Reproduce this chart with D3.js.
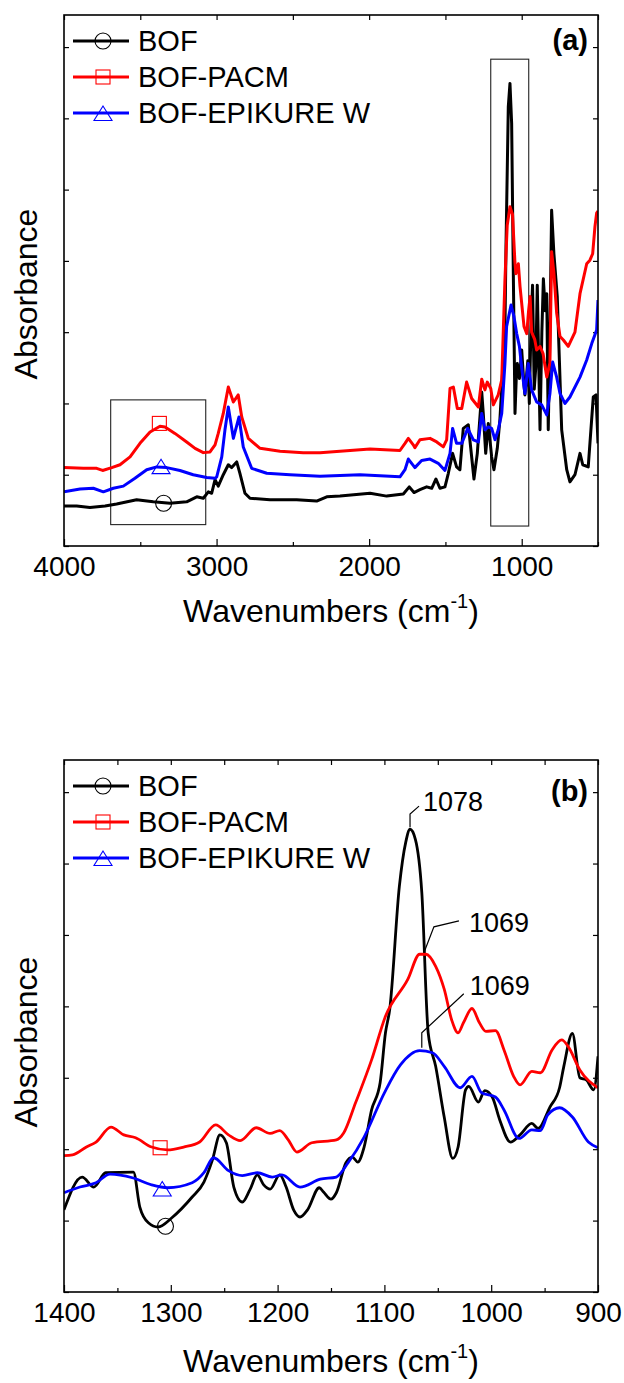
<!DOCTYPE html>
<html lang="en">
<head>
<meta charset="utf-8">
<title>FTIR</title>
<style>
  body { margin: 0; background: #fff; }
  svg { display: block; }
  text { font-family: "Liberation Sans", Arial, sans-serif; fill: #000; }
</style>
</head>
<body>
<svg id="chart" width="624" height="1383"></svg>
<script src="https://cdn.jsdelivr.net/npm/d3@7/dist/d3.min.js"></script>
<script>
// ---- data ----
var seriesNames = ['BOF', 'BOF-PACM', 'BOF-EPIKURE W'];

var ticksA = [4000, 3000, 2000, 1000];
var minorA = [3500, 2500, 1500, 500];
var ticksB = [1400, 1300, 1200, 1100, 1000, 900];
var minorB = [1350, 1250, 1150, 1050, 950];
var yTicks = [0, 0.1, 0.2, 0.3, 0.4, 0.5, 0.6, 0.7];

// (a) full range spectra [wavenumber, absorbance]
var bofA = [[4000,0.056],[3917,0.056],[3830,0.054],[3731,0.056],[3655,0.059],[3524,0.065],[3415,0.062],[3305,0.060],[3196,0.062],[3130,0.069],[3087,0.067],[3054,0.076],[3032,0.074],[3010,0.093],[2989,0.084],[2956,0.100],[2923,0.114],[2901,0.110],[2868,0.118],[2847,0.102],[2814,0.074],[2781,0.067],[2650,0.065],[2475,0.065],[2344,0.063],[2278,0.069],[2191,0.070],[1994,0.074],[1885,0.070],[1776,0.073],[1737,0.083],[1706,0.075],[1667,0.079],[1623,0.083],[1590,0.081],[1562,0.094],[1536,0.081],[1503,0.083],[1481,0.102],[1453,0.130],[1427,0.111],[1405,0.107],[1383,0.165],[1350,0.170],[1333,0.135],[1313,0.094],[1291,0.130],[1262,0.216],[1252,0.186],[1236,0.130],[1219,0.172],[1197,0.125],[1182,0.107],[1160,0.137],[1143,0.177],[1110,0.303],[1103,0.420],[1088,0.616],[1077,0.649],[1066,0.593],[1055,0.382],[1044,0.186],[1035,0.240],[1029,0.256],[1015,0.235],[1000,0.275],[985,0.225],[979,0.212],[960,0.260],[950,0.200],[940,0.300],[929,0.366],[918,0.220],[908,0.250],[898,0.366],[888,0.250],[880,0.163],[868,0.300],[858,0.375],[846,0.330],[836,0.354],[826,0.163],[815,0.300],[804,0.471],[789,0.410],[767,0.350],[753,0.260],[738,0.163],[705,0.107],[684,0.090],[651,0.100],[618,0.130],[600,0.114],[564,0.111],[531,0.209],[513,0.212],[500,0.144]];

var pacmA = [[4000,0.110],[3873,0.109],[3786,0.109],[3747,0.106],[3687,0.110],[3633,0.114],[3567,0.125],[3502,0.144],[3436,0.160],[3371,0.168],[3338,0.167],[3273,0.158],[3196,0.146],[3141,0.137],[3087,0.131],[3043,0.132],[3010,0.142],[2989,0.158],[2956,0.186],[2923,0.223],[2890,0.202],[2858,0.212],[2835,0.181],[2792,0.151],[2715,0.137],[2584,0.133],[2432,0.131],[2322,0.131],[1994,0.136],[1798,0.134],[1765,0.144],[1743,0.151],[1711,0.142],[1700,0.138],[1667,0.149],[1601,0.151],[1557,0.146],[1514,0.139],[1492,0.149],[1470,0.221],[1448,0.223],[1422,0.193],[1393,0.193],[1361,0.230],[1328,0.207],[1284,0.195],[1262,0.234],[1241,0.219],[1226,0.230],[1203,0.221],[1186,0.198],[1154,0.212],[1131,0.233],[1110,0.373],[1095,0.450],[1077,0.476],[1060,0.465],[1045,0.400],[1038,0.382],[1022,0.396],[1011,0.364],[985,0.308],[967,0.298],[955,0.330],[945,0.350],[935,0.300],[915,0.290],[902,0.275],[880,0.280],[860,0.270],[836,0.237],[815,0.257],[804,0.413],[789,0.383],[771,0.327],[749,0.294],[727,0.289],[695,0.280],[651,0.300],[618,0.354],[574,0.396],[553,0.401],[535,0.410],[520,0.448],[509,0.467],[500,0.470]];

var epikureA = [[4000,0.076],[3895,0.080],[3808,0.081],[3742,0.076],[3677,0.081],[3611,0.084],[3535,0.095],[3458,0.107],[3392,0.111],[3327,0.110],[3240,0.106],[3153,0.100],[3065,0.096],[3010,0.095],[2999,0.097],[2966,0.125],[2945,0.163],[2923,0.195],[2890,0.151],[2853,0.181],[2825,0.139],[2770,0.109],[2671,0.102],[2519,0.100],[2322,0.098],[2060,0.100],[1798,0.097],[1765,0.107],[1743,0.122],[1700,0.110],[1656,0.120],[1601,0.122],[1547,0.116],[1503,0.106],[1470,0.130],[1453,0.165],[1427,0.144],[1393,0.144],[1354,0.165],[1317,0.149],[1284,0.146],[1262,0.186],[1241,0.163],[1219,0.167],[1197,0.165],[1175,0.149],[1154,0.163],[1131,0.186],[1110,0.256],[1099,0.308],[1070,0.338],[1051,0.322],[1033,0.298],[1015,0.280],[1000,0.250],[979,0.214],[957,0.256],[935,0.219],[902,0.202],[869,0.198],[836,0.184],[815,0.214],[797,0.258],[771,0.237],[749,0.214],[717,0.200],[684,0.209],[618,0.237],[574,0.261],[541,0.284],[509,0.303],[500,0.345]];

// (b) 1400-900 expansion
var bofB = [[1400,0.115],[1383,0.161],[1372,0.147],[1361,0.167],[1335,0.168],[1329,0.119],[1321,0.097],[1312,0.091],[1299,0.104],[1280,0.133],[1269,0.154],[1261,0.185],[1254,0.220],[1248,0.209],[1241,0.147],[1233,0.126],[1226,0.143],[1219,0.164],[1213,0.150],[1207,0.144],[1198,0.164],[1192,0.147],[1185,0.115],[1179,0.105],[1172,0.115],[1161,0.146],[1157,0.140],[1150,0.130],[1145,0.139],[1136,0.181],[1130,0.189],[1125,0.182],[1119,0.203],[1112,0.255],[1104,0.293],[1099,0.363],[1095,0.396],[1086,0.568],[1080,0.630],[1076,0.648],[1071,0.634],[1065,0.560],[1059,0.363],[1052,0.316],[1044,0.245],[1036,0.187],[1031,0.203],[1024,0.283],[1021,0.288],[1012,0.266],[1006,0.282],[999,0.273],[992,0.241],[982,0.210],[973,0.220],[962,0.236],[956,0.229],[945,0.259],[936,0.286],[932,0.316],[924,0.362],[917,0.300],[911,0.297],[904,0.283],[900,0.330]];

var pacmB = [[1400,0.191],[1392,0.192],[1379,0.203],[1370,0.210],[1356,0.231],[1344,0.220],[1333,0.216],[1318,0.203],[1303,0.199],[1288,0.203],[1273,0.210],[1258,0.234],[1246,0.220],[1235,0.212],[1220,0.230],[1207,0.222],[1198,0.226],[1190,0.213],[1182,0.196],[1168,0.209],[1145,0.213],[1138,0.223],[1127,0.265],[1112,0.325],[1099,0.386],[1078,0.438],[1067,0.473],[1061,0.473],[1052,0.456],[1044,0.424],[1037,0.381],[1031,0.363],[1026,0.377],[1018,0.397],[1011,0.377],[1005,0.365],[996,0.366],[988,0.339],[979,0.302],[973,0.290],[962,0.309],[954,0.307],[943,0.339],[934,0.353],[928,0.344],[917,0.311],[900,0.286]];

var epikureB = [[1400,0.139],[1385,0.147],[1370,0.153],[1357,0.165],[1336,0.160],[1318,0.150],[1303,0.146],[1280,0.153],[1269,0.167],[1260,0.188],[1246,0.170],[1233,0.163],[1219,0.167],[1205,0.161],[1196,0.164],[1179,0.147],[1160,0.158],[1145,0.161],[1134,0.181],[1119,0.217],[1100,0.279],[1085,0.318],[1067,0.338],[1055,0.335],[1044,0.316],[1029,0.286],[1018,0.302],[1009,0.279],[996,0.273],[988,0.255],[974,0.215],[962,0.227],[954,0.226],[947,0.248],[936,0.258],[924,0.245],[909,0.210],[900,0.202]];

// marker positions on the curves [wavenumber, absorbance]
var markersA = [[3347,0.060],[3375,0.172],[3364,0.112]];
var markersB = [[1305,0.092],[1310,0.202],[1308,0.145]];

// rectangles drawn in (a): [w1, w2, a1, a2]
var boxesA = [[3694,3071,0.030,0.205],[1203,954,0.028,0.683]];

// peak labels in (b)
var peakText = ['1078', '1069', '1069'];
var peakPos = [[1076,0.651],[1063,0.475],[1065,0.342]];

// ---- styles ----
var colors = ['#000000', '#ff0000', '#0000ff'];
var symbols = ['circle', 'square', 'triangle'];

var svg = d3.select('#chart');
var left = 64, right = 598;

function drawMarker(g, type, cx, cy, color) {
    if (type === 'circle') {
        g.append('circle').attr('cx', cx).attr('cy', cy).attr('r', 8)
            .attr('fill', 'none').attr('stroke', color).attr('stroke-width', 1.1);
    } else if (type === 'square') {
        g.append('rect').attr('x', cx - 7).attr('y', cy - 7).attr('width', 14).attr('height', 14)
            .attr('fill', 'none').attr('stroke', color).attr('stroke-width', 1.1);
    } else {
        g.append('path')
            .attr('d', 'M' + cx + ',' + (cy - 7) + 'L' + (cx + 9) + ',' + (cy + 7.5) + 'L' + (cx - 9) + ',' + (cy + 7.5) + 'Z')
            .attr('fill', 'none').attr('stroke', color).attr('stroke-width', 1.1);
    }
}

function drawPanel(p) {
    var g = svg.append('g');
    var x = d3.scaleLinear().domain(p.xDomain).range([left, right]);
    var y = d3.scaleLinear().domain([0, 0.745]).range([p.bottom, p.top]);

    // axes, ticks pointing inward
    var bottomAx = g.append('g').attr('transform', 'translate(0,' + p.bottom + ')')
        .call(d3.axisBottom(x).tickValues(p.ticks).tickSize(-7).tickPadding(10).tickFormat(d3.format('d')));
    bottomAx.selectAll('text').style('font-size', '28px');
    g.append('g').attr('transform', 'translate(0,' + p.bottom + ')')
        .call(d3.axisBottom(x).tickValues(p.minor).tickSize(-4).tickFormat(''));
    g.append('g').attr('transform', 'translate(0,' + p.top + ')')
        .call(d3.axisTop(x).tickValues(p.ticks.concat(p.minor)).tickSize(-5).tickFormat(''));
    g.append('g').attr('transform', 'translate(' + left + ',0)')
        .call(d3.axisLeft(y).tickValues(yTicks).tickSize(-5).tickFormat(''));
    g.append('g').attr('transform', 'translate(' + right + ',0)')
        .call(d3.axisRight(y).tickValues(yTicks).tickSize(-5).tickFormat(''));
    g.selectAll('.domain').remove();
    g.selectAll('.tick line').attr('stroke', '#000').attr('stroke-width', 1.2);

    // boxes
    (p.boxes || []).forEach(function(b) {
        g.append('rect')
            .attr('x', x(b[0])).attr('y', y(b[3]))
            .attr('width', x(b[1]) - x(b[0])).attr('height', y(b[2]) - y(b[3]))
            .attr('fill', 'none').attr('stroke', '#222').attr('stroke-width', 1.1);
    });

    // spectra
    var clip = 'clip-' + p.name;
    g.append('clipPath').attr('id', clip).append('rect')
        .attr('x', left).attr('y', p.top).attr('width', right - left).attr('height', p.bottom - p.top);
    var line = d3.line().x(function(d) { return x(d[0]); }).y(function(d) { return y(d[1]); }).curve(p.curve);
    p.series.forEach(function(s, i) {
        g.append('path').datum(s)
            .attr('clip-path', 'url(#' + clip + ')')
            .attr('d', line)
            .attr('fill', 'none')
            .attr('stroke', colors[i])
            .attr('stroke-width', p.lw)
            .attr('stroke-linejoin', 'round');
    });

    // markers on curves
    p.markers.forEach(function(m, i) {
        drawMarker(g, symbols[i], x(m[0]), y(m[1]), colors[i]);
    });

    // peak labels
    (p.peaks || []).forEach(function(pk, i) {
        var ax = x(pk[0]), ay = y(pk[1]);
        var off = p.peakLeaders[i];
        var pts = [[ax, ay]].concat(off.line.map(function(o) { return [ax + o[0], ay + o[1]]; }));
        g.append('path').attr('d', d3.line()(pts))
            .attr('fill', 'none').attr('stroke', '#000').attr('stroke-width', 1.2);
        g.append('text').attr('x', ax + off.text[0]).attr('y', ay + off.text[1])
            .style('font-size', '27px').text(p.peakText[i]);
    });

    // frame
    g.append('rect').attr('x', left).attr('y', p.top)
        .attr('width', right - left).attr('height', p.bottom - p.top)
        .attr('fill', 'none').attr('stroke', '#000').attr('stroke-width', 1.6);

    // legend
    seriesNames.forEach(function(name, i) {
        var ly = p.top + 26 + i * 36;
        g.append('line').attr('x1', 73).attr('x2', 129).attr('y1', ly).attr('y2', ly)
            .attr('stroke', colors[i]).attr('stroke-width', 3);
        drawMarker(g, symbols[i], 103, ly, colors[i]);
        g.append('text').attr('x', 138).attr('y', ly + 9.5)
            .style('font-size', '29px').text(name);
    });

    // panel tag
    g.append('text').attr('x', 588).attr('y', p.tagY)
        .attr('text-anchor', 'end').style('font-size', '29px').style('font-weight', 'bold')
        .text(p.tag);

    // axis titles
    var xt = g.append('text').attr('x', (left + right) / 2).attr('y', p.xTitleY)
        .attr('text-anchor', 'middle').style('font-size', '32px');
    xt.append('tspan').text('Wavenumbers (cm');
    xt.append('tspan').attr('dy', -14).style('font-size', '20px').text('-1');
    xt.append('tspan').attr('dy', 14).text(')');

    g.append('text')
        .attr('transform', 'translate(37,' + p.yTitleY + ') rotate(-90)')
        .attr('text-anchor', 'middle').style('font-size', '32px')
        .text('Absorbance');
}

drawPanel({
    name: 'a', top: 15, bottom: 546,
    xDomain: [4000, 500], ticks: ticksA, minor: minorA,
    series: [bofA, pacmA, epikureA], markers: markersA,
    boxes: boxesA, curve: d3.curveLinear, lw: 3,
    tag: '(a)', tagY: 50, xTitleY: 622, yTitleY: 294
});

drawPanel({
    name: 'b', top: 760, bottom: 1292,
    xDomain: [1400, 900], ticks: ticksB, minor: minorB,
    series: [bofB, pacmB, epikureB], markers: markersB,
    curve: d3.curveMonotoneX, lw: 2.8,
    peaks: peakPos, peakText: peakText,
    peakLeaders: [
        { line: [[0, -13], [9, -21]], text: [13, -16] },
        { line: [[10, -26], [35, -32]], text: [45, -21] },
        { line: [[0, -15], [42, -54]], text: [48, -53] }
    ],
    tag: '(b)', tagY: 801, xTitleY: 1372, yTitleY: 1042
});
</script>
</body>
</html>
